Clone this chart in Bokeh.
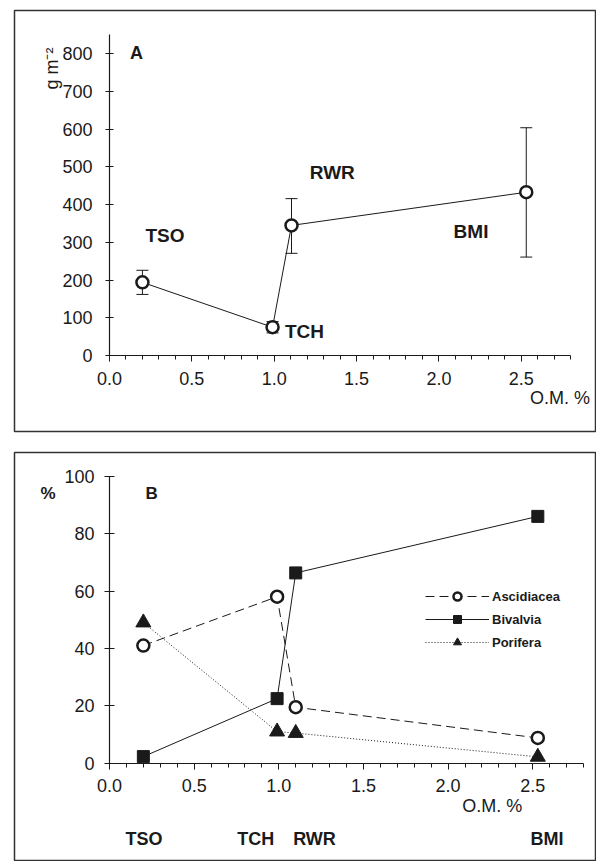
from bokeh.plotting import figure
from bokeh.models import (LinearAxis, Range1d, SingleIntervalTicker, Whisker, ColumnDataSource,
                          Label, Legend, LegendItem, TeeHead, PrintfTickFormatter)
from bokeh.layouts import column
from bokeh.embed import file_html
from bokeh.resources import INLINE

# ---------------- data ----------------
sites = ["TSO", "TCH", "RWR", "BMI"]
om_pct = [0.2, 0.99, 1.105, 2.53]          # organic matter %
biomass = [194, 75, 345, 433]               # g m-2
biomass_hi = [226, 90, 416, 604]
biomass_lo = [162, 60, 271, 261]

om_pct_b = [0.2, 0.99, 1.1, 2.53]
ascidiacea = [41, 58, 19.5, 8.8]
bivalvia = [2.3, 22.5, 66.3, 86]
porifera = [49, 11, 10.5, 2.2]

FONT = "Liberation Sans"
INK = "#1a1a1a"


def style_axis(ax, tick_in, tick_out, minor_out, standoff):
    ax.axis_line_color = INK
    ax.axis_line_width = 1.2
    ax.major_tick_line_color = INK
    ax.minor_tick_line_color = INK
    ax.major_tick_in = tick_in
    ax.major_tick_out = tick_out
    ax.minor_tick_in = 0
    ax.minor_tick_out = minor_out
    ax.major_label_text_font = FONT
    ax.major_label_text_font_size = "18px"
    ax.major_label_text_color = INK
    ax.major_label_standoff = standoff


def add_label(p, x, y, text, size, bold=True, angle=0.0, align="left", baseline="alphabetic"):
    p.add_layout(Label(x=x, y=y, text=text, text_font=FONT, text_font_size=size,
                       text_font_style="bold" if bold else "normal", text_color=INK,
                       angle=angle, text_align=align, text_baseline=baseline))


# ---------------- panel A ----------------
pA = figure(width=596, height=440, x_range=Range1d(-0.5765, 2.9564), y_range=Range1d(-201.5, 914.9),
            output_backend="svg", toolbar_location=None, x_axis_type=None, y_axis_type=None,
            min_border_left=12, min_border_right=0, min_border_top=10, min_border_bottom=9)
pA.outline_line_color = "#333333"
pA.outline_line_width = 1.5
pA.background_fill_color = "white"
pA.border_fill_color = "white"

xa = LinearAxis(fixed_location=0, bounds=(0, 2.8),
                ticker=SingleIntervalTicker(interval=0.5, num_minor_ticks=5),
                formatter=PrintfTickFormatter(format="%.1f"))
style_axis(xa, 0, 6, 4, 10)
pA.add_layout(xa, "below")
ya = LinearAxis(fixed_location=0, bounds=(0, 850),
                ticker=SingleIntervalTicker(interval=100, num_minor_ticks=0))
style_axis(ya, 4, 4, 0, 13)
pA.add_layout(ya, "left")

srcA = ColumnDataSource(dict(x=om_pct, y=biomass, hi=biomass_hi, lo=biomass_lo))
pA.add_layout(Whisker(source=srcA, base="x", upper="hi", lower="lo", dimension="height",
                      line_color=INK, line_width=1,
                      upper_head=TeeHead(size=12, line_color=INK, line_width=1),
                      lower_head=TeeHead(size=12, line_color=INK, line_width=1)))
pA.line("x", "y", source=srcA, line_color=INK, line_width=1)
pA.scatter("x", "y", source=srcA, marker="circle", size=12, fill_color="white",
           line_color=INK, line_width=2.5)

add_label(pA, 0.125, 802, "A", "18px")
add_label(pA, 0.218, 318, "TSO", "19px")
add_label(pA, 1.065, 64, "TCH", "19px")
add_label(pA, 1.216, 484, "RWR", "19px")
add_label(pA, 2.089, 330, "BMI", "19px")
add_label(pA, 2.553, -112, "O.M. %", "18px", bold=False)
add_label(pA, -0.347, 761, "g m\u207b\u00b2", "18px", bold=False, angle=1.5708,
          align="center", baseline="middle")

# ---------------- panel B ----------------
pB = figure(width=596, height=421, x_range=Range1d(-0.5611, 2.8766), y_range=Range1d(-34.25, 108.26),
            output_backend="svg", toolbar_location=None, x_axis_type=None, y_axis_type=None,
            min_border_left=14, min_border_right=0, min_border_top=12, min_border_bottom=0)
pB.outline_line_color = "#333333"
pB.outline_line_width = 1.5
pB.background_fill_color = "white"
pB.border_fill_color = "white"

xb = LinearAxis(fixed_location=0, bounds=(0, 2.8),
                ticker=SingleIntervalTicker(interval=0.5, num_minor_ticks=5),
                formatter=PrintfTickFormatter(format="%.1f"))
style_axis(xb, 0, 6, 4, 10)
pB.add_layout(xb, "below")
yb = LinearAxis(fixed_location=0, bounds=(0, 100),
                ticker=SingleIntervalTicker(interval=20, num_minor_ticks=0))
style_axis(yb, 5, 5, 0, 10)
pB.add_layout(yb, "left")

srcB = ColumnDataSource(dict(x=om_pct_b, asc=ascidiacea, biv=bivalvia, por=porifera))
l_asc = pB.line("x", "asc", source=srcB, line_color=INK, line_width=1, line_dash="9 5")
l_biv = pB.line("x", "biv", source=srcB, line_color=INK, line_width=1)
l_por = pB.line("x", "por", source=srcB, line_color=INK, line_width=1, line_dash="1 2")
m_por = pB.scatter("x", "por", source=srcB, marker="triangle", size=15, fill_color=INK,
                   line_color=INK, line_width=1)
m_biv = pB.scatter("x", "biv", source=srcB, marker="square", size=12, fill_color=INK,
                   line_color=INK, line_width=1)
m_asc = pB.scatter("x", "asc", source=srcB, marker="circle", size=12, fill_color="white",
                   line_color=INK, line_width=2.5)

legend = Legend(items=[LegendItem(label="Ascidiacea", renderers=[l_asc, m_asc]),
                       LegendItem(label="Bivalvia", renderers=[l_biv, m_biv]),
                       LegendItem(label="Porifera", renderers=[l_por, m_por])],
                location=(411, 209), padding=0, margin=0, spacing=3,
                glyph_width=64, glyph_height=20, label_height=20, label_standoff=3,
                label_text_font=FONT, label_text_font_size="13px", label_text_font_style="bold",
                label_text_color=INK, border_line_color=None, background_fill_alpha=0)
pB.add_layout(legend, "center")

add_label(pB, -0.408, 93.9, "%", "17px")
add_label(pB, 0.213, 94.0, "B", "17px")
add_label(pB, 2.083, -14.8, "O.M. %", "18px", bold=False)
add_label(pB, 0.0945, -26.5, "TSO", "18px")
add_label(pB, 0.754, -26.5, "TCH", "18px")
add_label(pB, 1.085, -26.5, "RWR", "18px")
add_label(pB, 2.487, -26.5, "BMI", "18px")

layout = column(pA, pB, spacing=0)
open("out.html", "w").write(file_html(layout, INLINE))
